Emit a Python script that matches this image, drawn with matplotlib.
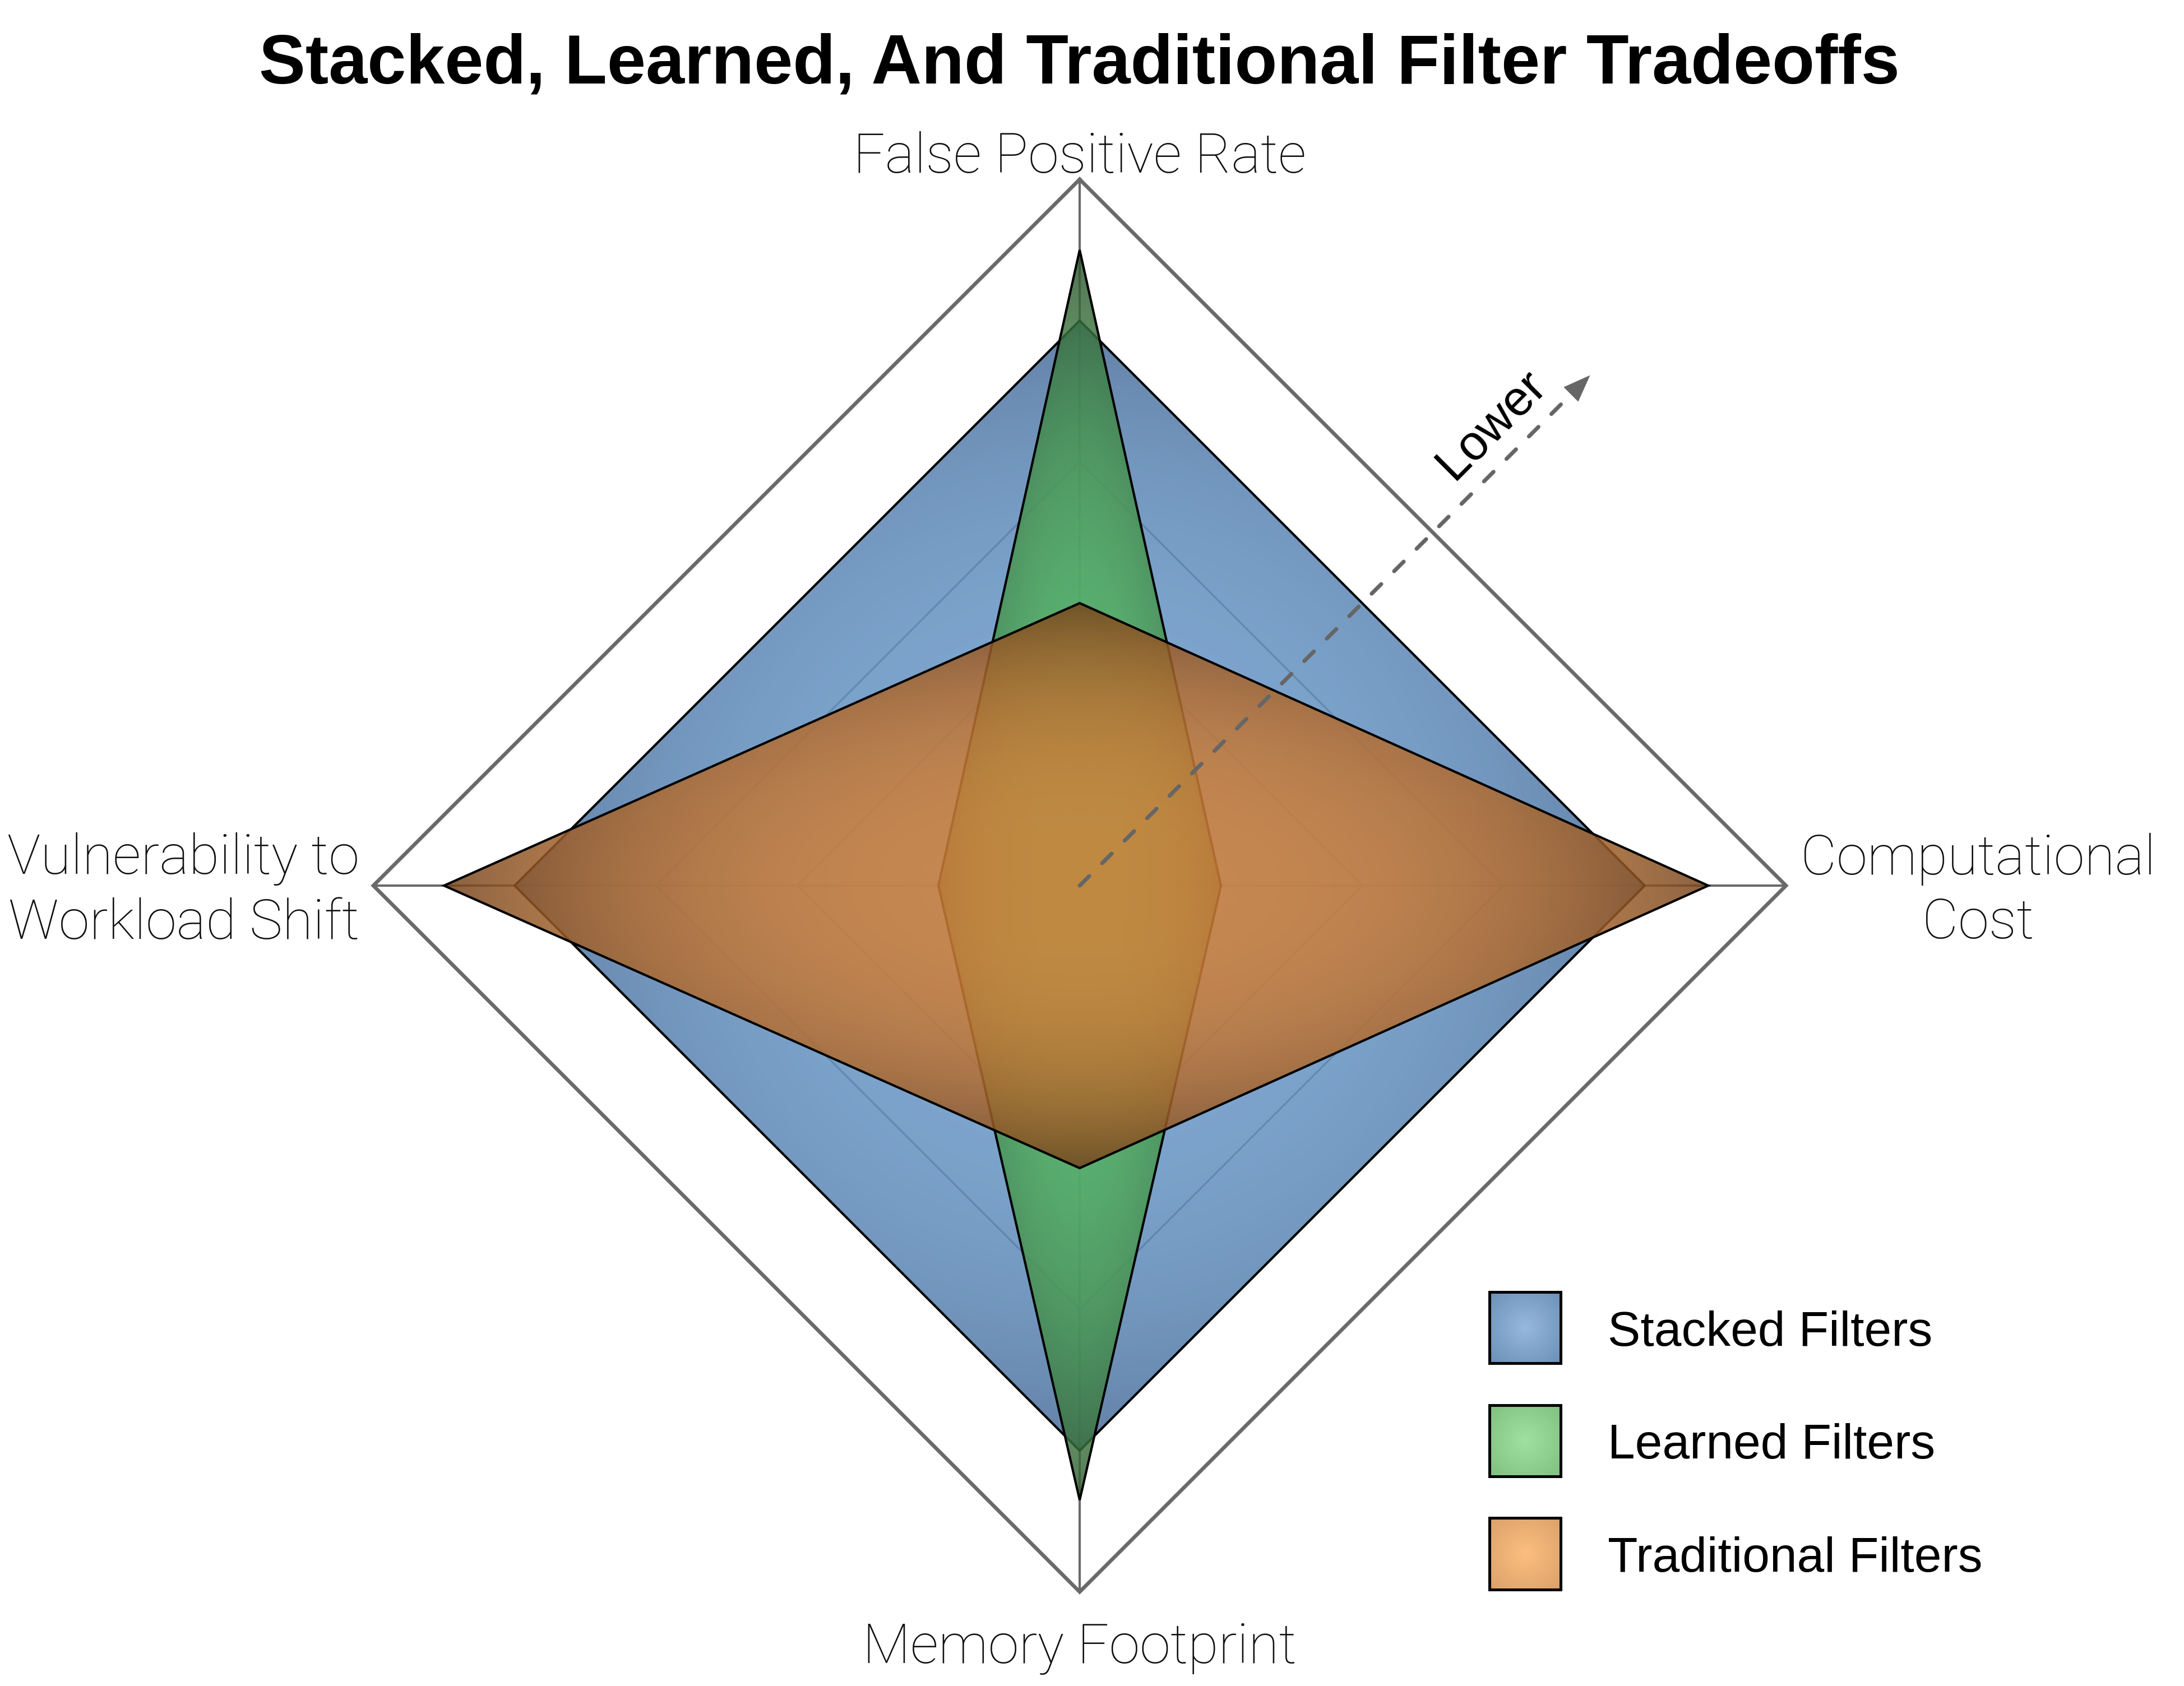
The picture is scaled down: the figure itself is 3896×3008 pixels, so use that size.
import numpy as np
import matplotlib.pyplot as plt
from matplotlib.patches import Polygon, Rectangle

# chart data
axis_labels = ['False Positive Rate', 'Computational\nCost', 'Memory Footprint', 'Vulnerability to\nWorkload Shift']
series_names = ['Stacked Filters', 'Learned Filters', 'Traditional Filters']
stacked = [0.8, 0.8, 0.8, 0.8]
learned = [0.9, 0.2, 0.87, 0.2]
traditional = [0.4, 0.89, 0.4, 0.9]
grid_levels = [0.2, 0.4, 0.6, 0.8, 1.0]

# colours (fill gradient: centre -> edge), legend swatch colours
fill_light = ['#6898c8', '#55b95f', '#d4823a']
fill_dark = ['#466996', '#2d502d', '#74431c']
legend_light = ['#97b8dd', '#a0e0a0', '#fdbf80']
legend_dark = ['#6a8fb6', '#7fbf7f', '#d9a068']
fill_alpha = [0.85, 0.82, 0.84]

grid_col = '#6a6a6a'

def rgb(c):
    c = c.lstrip('#')
    return np.array([int(c[i:i + 2], 16) for i in (0, 2, 4)]) / 255.0

n = len(axis_labels)
theta = np.pi / 2 - np.arange(n) * 2 * np.pi / n

fig = plt.figure(figsize=(3896 / 300, 3008 / 300), dpi=300)
ax = fig.add_axes([0, 0, 1, 1])
xlim = (-1.5286, 1.5635)
ylim = (-1.1333, 1.2540)

# grid diamonds and spokes
for lev in grid_levels:
    xs = lev * np.cos(theta)
    ys = lev * np.sin(theta)
    ax.plot(np.append(xs, xs[0]), np.append(ys, ys[0]), color=grid_col,
            lw=1.6 if lev == 1.0 else 0.8, zorder=1, solid_joinstyle='miter')
for t in theta:
    ax.plot([0, np.cos(t)], [0, np.sin(t)], color=grid_col, lw=1.0, zorder=1)


def gradient_poly(vals, light, dark, alpha, z):
    vals = np.asarray(vals)
    xs = vals * np.cos(theta)
    ys = vals * np.sin(theta)
    rx = np.max(np.abs(xs))
    ry = np.max(np.abs(ys))
    gx = np.linspace(-rx, rx, 500)
    gy = np.linspace(-ry, ry, 500)
    X, Y = np.meshgrid(gx, gy)
    tt = np.clip(np.sqrt((X / rx) ** 2 + (Y / ry) ** 2), 0, 1) ** 3
    img = rgb(light)[None, None, :] * (1 - tt[..., None]) + rgb(dark)[None, None, :] * tt[..., None]
    poly = Polygon(np.column_stack([xs, ys]), closed=True, facecolor='none',
                   edgecolor='black', lw=1.0, zorder=z + 0.1, joinstyle='miter')
    ax.add_patch(poly)
    im = ax.imshow(img, extent=(-rx, rx, -ry, ry), origin='lower', alpha=alpha,
                   zorder=z, interpolation='bilinear', aspect='auto')
    im.set_clip_path(poly)


for i, vals in enumerate([stacked, learned, traditional]):
    gradient_poly(vals, fill_light[i], fill_dark[i], fill_alpha[i], 2 + i)

# axis labels
lab_font = dict(family=['Roboto', 'DejaVu Sans'], fontweight='light', fontsize=23.8, color='#111111')
ax.text(0, 1.0095, axis_labels[0], ha='center', va='baseline', **lab_font)
ax.text(1.272, -0.008, axis_labels[1], ha='center', va='center', multialignment='center',
        linespacing=1.28, **lab_font)
ax.text(0, -1.101, axis_labels[2], ha='center', va='baseline', **lab_font)
ax.text(-1.0198, -0.008, axis_labels[3], ha='right', va='center', multialignment='right',
        linespacing=1.28, **lab_font)

# "Lower" direction arrow
ang = np.pi / 4
ax.plot([0, 0.972 * np.cos(ang)], [0, 0.972 * np.sin(ang)], color='#666666', lw=1.7,
        linestyle=(0, (3.4, 4.6)), dash_capstyle='round', zorder=6)
ax.annotate('', xy=(1.022 * np.cos(ang), 1.022 * np.sin(ang)),
            xytext=(0.95 * np.cos(ang), 0.95 * np.sin(ang)),
            arrowprops=dict(arrowstyle='-|>,head_length=0.4,head_width=0.152', mutation_scale=29,
                            color='#666666', lw=0, shrinkA=0, shrinkB=0), zorder=6)
ax.text(0.584, 0.652, 'Lower', rotation=45, rotation_mode='anchor', ha='center', va='center',
        fontsize=21, family='Liberation Sans', color='black', zorder=7)

# legend (gradient swatches)
sw_x0, sw_x1 = 0.580, 0.681
half = (sw_x1 - sw_x0) / 2
for i, name in enumerate(series_names):
    yc = -0.626 - i * 0.160
    g = np.linspace(-1, 1, 200)
    X, Y = np.meshgrid(g, g)
    tt = np.clip(np.sqrt(X ** 2 + Y ** 2) / np.sqrt(2), 0, 1)
    img = rgb(legend_light[i])[None, None, :] * (1 - tt[..., None]) + rgb(legend_dark[i])[None, None, :] * tt[..., None]
    ax.imshow(img, extent=(sw_x0, sw_x1, yc - half, yc + half), origin='lower',
              zorder=8, interpolation='bilinear', aspect='auto')
    ax.add_patch(Rectangle((sw_x0, yc - half), sw_x1 - sw_x0, 2 * half, facecolor='none',
                           edgecolor='black', lw=1.2, zorder=9))
    ax.text(0.748, yc - 0.0254, name, ha='left', va='baseline', fontsize=21,
            family='Liberation Sans', color='black')

ax.set_xlim(*xlim)
ax.set_ylim(*ylim)
ax.axis('off')

fig.text(0.4943, 1 - 149 / 3008, 'Stacked, Learned, And Traditional Filter Tradeoffs',
         ha='center', va='baseline', fontsize=29.8, fontweight='bold', family='Liberation Sans')

fig.savefig('out.png', dpi=300)
